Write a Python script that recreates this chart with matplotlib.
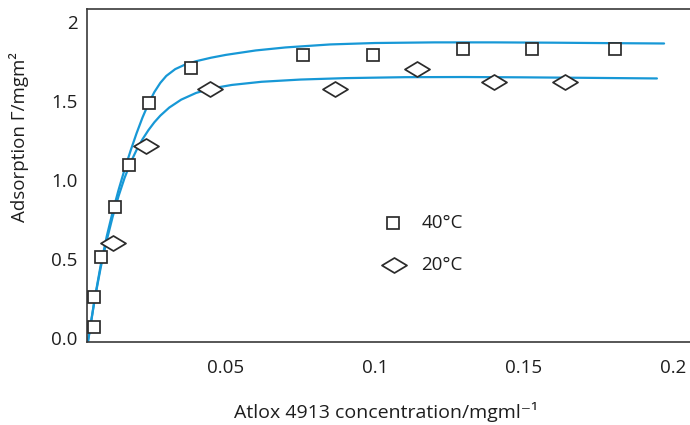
import matplotlib
matplotlib.use("Agg")
import matplotlib.pyplot as plt
from matplotlib.path import Path

plt.rcParams['font.family'] = ['Open Sans', 'DejaVu Sans']

# Measured adsorption, 40 °C (squares)
conc_40 = [0.0058, 0.0058, 0.0081, 0.0129, 0.0174, 0.0243, 0.0384, 0.0758, 0.0993, 0.1294, 0.1526, 0.1805]
ads_40 = [0.072, 0.261, 0.511, 0.827, 1.091, 1.485, 1.707, 1.79, 1.79, 1.827, 1.827, 1.827]

# Measured adsorption, 20 °C (diamonds)
conc_20 = [0.0122, 0.0231, 0.0446, 0.0866, 0.1142, 0.1399, 0.1637]
ads_20 = [0.603, 1.217, 1.576, 1.576, 1.703, 1.618, 1.618]

# Fitted isotherm, 40 °C
fit_x_40 = [0.0037, 0.006, 0.008, 0.010, 0.012, 0.014, 0.016, 0.018, 0.020, 0.022,
            0.024, 0.026, 0.028, 0.030, 0.033, 0.036, 0.040, 0.045, 0.050, 0.060,
            0.070, 0.085, 0.100, 0.120, 0.140, 0.160, 0.180, 0.197]
fit_y_40 = [-0.025, 0.251, 0.461, 0.641, 0.797, 0.937, 1.065, 1.183, 1.293, 1.393,
            1.481, 1.555, 1.613, 1.657, 1.700, 1.726, 1.750, 1.772, 1.790, 1.818,
            1.837, 1.856, 1.865, 1.869, 1.869, 1.867, 1.864, 1.862]

# Fitted isotherm, 20 °C
fit_x_20 = [0.0037, 0.006, 0.008, 0.010, 0.012, 0.014, 0.016, 0.018, 0.020, 0.022,
            0.024, 0.026, 0.028, 0.031, 0.035, 0.040, 0.045, 0.052, 0.062, 0.075,
            0.090, 0.110, 0.130, 0.150, 0.170, 0.1946]
fit_y_20 = [-0.025, 0.246, 0.446, 0.616, 0.766, 0.898, 1.012, 1.108, 1.188, 1.256,
            1.314, 1.364, 1.406, 1.457, 1.507, 1.5495, 1.577, 1.600, 1.620, 1.634,
            1.643, 1.649, 1.650, 1.648, 1.645, 1.641]

x_ticks = [0.05, 0.1, 0.15, 0.2]
x_tick_labels = ["0.05", "0.1", "0.15", "0.2"]
y_ticks = [0.0, 0.5, 1.0, 1.5, 2.0]
y_tick_labels = ["0.0", "0.5", "1.0", "1.5", "2"]

line_color = "#1798d6"
edge_color = "#2b2b2b"
text_color = "#1e1e1e"
font_size = 13.5

# Flattened diamond marker
diamond = Path([(-1, 0), (0, 0.6), (1, 0), (0, -0.6), (-1, 0)],
               [Path.MOVETO, Path.LINETO, Path.LINETO, Path.LINETO, Path.CLOSEPOLY])

fig = plt.figure(figsize=(6.9, 4.25), dpi=100)
ax = fig.add_axes([87 / 690, 1 - 342 / 425, 1 - 87 / 690, (342 - 9) / 425])

ax.plot(fit_x_40, fit_y_40, color=line_color, lw=1.6, zorder=2,
        solid_joinstyle='round', solid_capstyle='round')
ax.plot(fit_x_20, fit_y_20, color=line_color, lw=1.6, zorder=2,
        solid_joinstyle='round', solid_capstyle='round')

ax.plot(conc_40, ads_40, ls='none', marker='s', ms=9.0, mfc='white', mec=edge_color,
        mew=1.25, zorder=3)
ax.plot(conc_20, ads_20, ls='none', marker=diamond, ms=18, mfc='white', mec=edge_color,
        mew=1.25, zorder=3)

ax.set_xlim(0.0034, 0.2057)
ax.set_ylim(-0.025, 2.08)

ax.set_xticks(x_ticks)
ax.set_xticklabels(x_tick_labels)
ax.set_yticks(y_ticks)
ax.set_yticklabels(y_tick_labels)
ax.tick_params(axis='both', length=0, labelsize=font_size, colors=text_color)
ax.tick_params(axis='x', pad=12)
ax.tick_params(axis='y', pad=7)

for side in ('left', 'bottom', 'top'):
    ax.spines[side].set_color('#3a3a3a')
    ax.spines[side].set_linewidth(1.2)
ax.spines['right'].set_visible(False)

# Legend drawn as markers and text inside the axes
ax.plot([0.1062], [0.727], ls='none', marker='s', ms=9.0, mfc='white', mec=edge_color,
        mew=1.25, clip_on=False)
ax.text(0.1156, 0.727, "40°C", fontsize=font_size, va='center', ha='left', color=text_color)
ax.plot([0.1065], [0.460], ls='none', marker=diamond, ms=18, mfc='white', mec=edge_color,
        mew=1.25, clip_on=False)
ax.text(0.1156, 0.460, "20°C", fontsize=font_size, va='center', ha='left', color=text_color)

fig.text(19 / 690, 1 - 137 / 425, "Adsorption Γ/mgm²", rotation=90, fontsize=font_size,
         ha='center', va='center', color=text_color)
fig.text(386 / 690, 1 - 412 / 425, "Atlox 4913 concentration/mgml⁻¹", fontsize=14,
         ha='center', va='center', color=text_color)

fig.savefig("out.png", dpi=100)
